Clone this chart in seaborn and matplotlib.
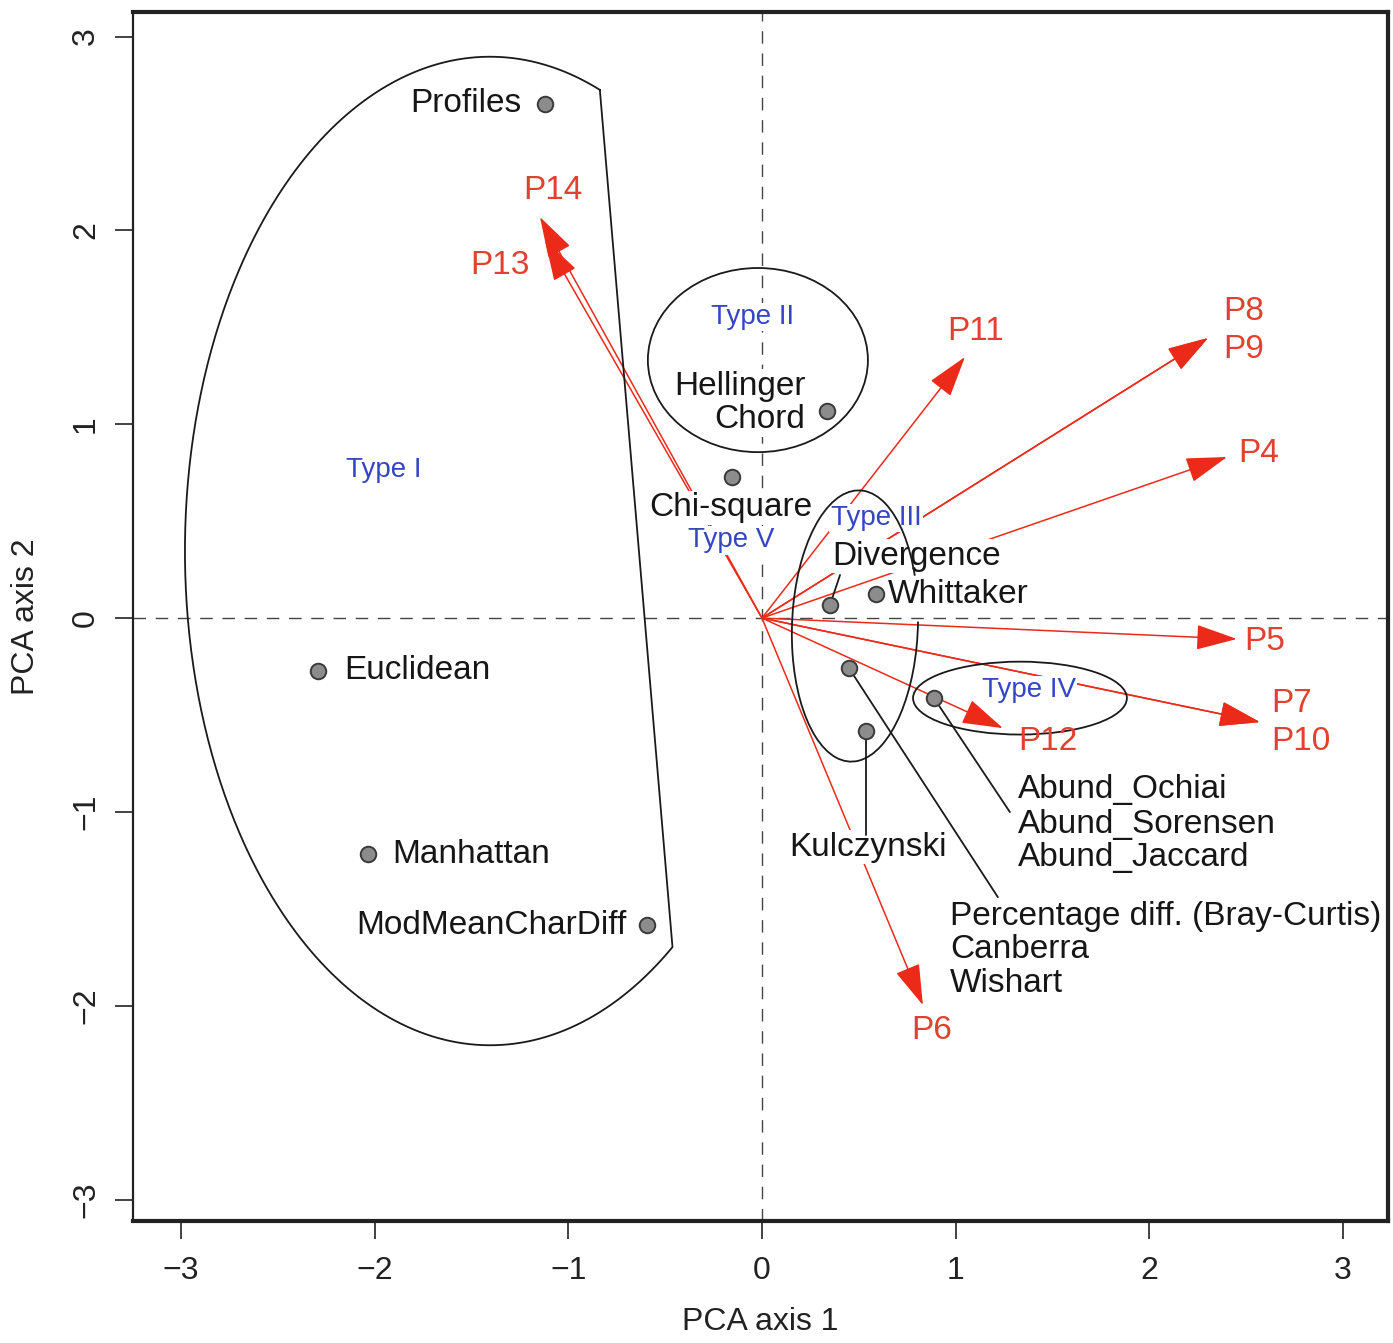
"""
PCA biplot of dissimilarity coefficients (points) and properties P4-P14 (arrows),
with the five coefficient types outlined.
"""

import numpy as np
import pandas as pd
import matplotlib
matplotlib.use("Agg")
import matplotlib.pyplot as plt
from matplotlib.patches import Ellipse, Arc
import seaborn as sns


# ── Data ──────────────────────────────────────────────────────────────────────

metric_names = ["Profiles", "Chi-square", "Hellinger", "Divergence", "Whittaker",
                "Percentage diff.", "Kulczynski", "Abund", "Euclidean",
                "Manhattan", "ModMeanCharDiff"]
metric_pc1 = [-1.12, -0.155, 0.336, 0.351, 0.589, 0.449, 0.537, 0.888, -2.292, -2.034, -0.594]
metric_pc2 = [2.65, 0.728, 1.068, 0.067, 0.124, -0.258, -0.583, -0.413, -0.273, -1.218, -1.584]

param_names = ["P4", "P5", "P6", "P7", "P8", "P9", "P10", "P11", "P12", "P13", "P14"]
param_pc1 = [2.401, 2.452, 0.831, 2.571, 2.303, 2.303, 2.571, 1.048, 1.244, -1.120, -1.146]
param_pc2 = [0.831, -0.108, -1.997, -0.537, 1.445, 1.445, -0.537, 1.347, -0.568, 1.950, 2.069]

xticks = [-3, -2, -1, 0, 1, 2, 3]
yticks = [-3, -2, -1, 0, 1, 2, 3]

# ── Layout / style ────────────────────────────────────────────────────────────

RED = "#ec2a1a"
RED_TXT = "#e3412f"
BLUE = "#3446c4"
GREY = "#8c8c8c"

# black labels: text, x, y, ha
black_labels = [
    ("Profiles", -1.239, 2.657, "right"),
    ("Hellinger", 0.227, 1.197, "right"),
    ("Chord", 0.222, 1.022, "right"),
    ("Chi-square", -0.160, 0.568, "center"),
    ("Divergence", 0.361, 0.320, "left"),
    ("Whittaker", 0.650, 0.119, "left"),
    ("Euclidean", -2.158, -0.273, "left"),
    ("Kulczynski", 0.547, -1.182, "center"),
    ("Manhattan", -1.910, -1.218, "left"),
    ("ModMeanCharDiff", -0.697, -1.584, "right"),
    ("Abund_Ochiai", 1.322, -0.887, "left"),
    ("Abund_Sorensen", 1.322, -1.063, "left"),
    ("Abund_Jaccard", 1.322, -1.233, "left"),
    ("Percentage diff. (Bray-Curtis)", 0.971, -1.538, "left"),
    ("Canberra", 0.971, -1.708, "left"),
    ("Wishart", 0.971, -1.883, "left"),
]

type_labels = [
    ("Type I", -1.951, 0.764),
    ("Type II", -0.046, 1.553),
    ("Type III", 0.589, 0.516),
    ("Type IV", 1.378, -0.372),
    ("Type V", -0.160, 0.402),
]

param_labels = [
    ("P14", -1.079, 2.208, "center"),
    ("P13", -1.353, 1.821, "center"),
    ("P11", 1.105, 1.476, "center"),
    ("P8", 2.380, 1.584, "left"),
    ("P9", 2.380, 1.383, "left"),
    ("P4", 2.457, 0.851, "left"),
    ("P5", 2.488, -0.119, "left"),
    ("P7", 2.628, -0.439, "left"),
    ("P10", 2.628, -0.635, "left"),
    ("P12", 1.322, -0.635, "left"),
    ("P6", 0.878, -2.126, "center"),
]

# leader lines: metric index -> label end
leaders = [(3, (0.403, 0.222)), (6, (0.537, -1.12)),
           (5, (1.218, -1.440)), (7, (1.280, -1.001))]


def clipped_ellipse(cx, cy, a, b, p0, p1, n=400):
    """Ellipse outline cut off by the straight line p0-p1 (keeps the left part)."""
    d = np.subtract(p1, p0)
    u0 = ((p0[0] - cx) / a, (p0[1] - cy) / b)
    du = (d[0] / a, d[1] / b)
    A = du[0] ** 2 + du[1] ** 2
    B = 2 * (u0[0] * du[0] + u0[1] * du[1])
    C = u0[0] ** 2 + u0[1] ** 2 - 1
    s = np.sort((-B + np.array([-1, 1]) * np.sqrt(B * B - 4 * A * C)) / (2 * A))
    q = [np.add(p0, si * d) for si in s]
    t0 = np.arctan2((q[0][1] - cy) / b, (q[0][0] - cx) / a)
    t1 = np.arctan2((q[1][1] - cy) / b, (q[1][0] - cx) / a)
    if t1 < t0:
        t1 += 2 * np.pi
    t = np.linspace(t0, t1, n)
    xs = np.append(cx + a * np.cos(t), q[0][0])
    ys = np.append(cy + b * np.sin(t), q[0][1])
    return xs, ys


# ── Plot ──────────────────────────────────────────────────────────────────────

sns.set_theme(style="white")
plt.rcParams["font.family"] = ["Liberation Sans", "DejaVu Sans"]

fig = plt.figure(figsize=(13.93, 13.43), dpi=100)
ax = fig.add_axes([0.0955, 0.0908, 0.9009, 0.9003])

ax.axhline(0, color="#444444", lw=1.0, ls=(0, (9, 7)), zorder=1)
ax.axvline(0, color="#444444", lw=1.0, ls=(0, (9, 7)), zorder=1)

# property arrows
for px, py in zip(param_pc1, param_pc2):
    ax.annotate("", xy=(px, py), xytext=(0, 0), zorder=2,
                arrowprops=dict(arrowstyle="-|>,head_length=1.3,head_width=0.4",
                                mutation_scale=20, color=RED, lw=1.1,
                                shrinkA=0, shrinkB=0))

# labels with white background
box = dict(boxstyle="square,pad=0.05", fc="white", ec="none")
for txt, x, y, ha in black_labels:
    ax.text(x, y, txt, ha=ha, va="center", fontsize=24, color="#161616",
            bbox=box, zorder=3)
for txt, x, y in type_labels:
    ax.text(x, y, txt, ha="center", va="center", fontsize=20, color=BLUE,
            bbox=box, zorder=3)
for txt, x, y, ha in param_labels:
    ax.text(x, y, txt, ha=ha, va="center", fontsize=24, color=RED_TXT, zorder=5)

# group outlines
xs, ys = clipped_ellipse(-1.404, 0.346, 1.575, 2.55, (-0.836, 2.714), (-0.465, -1.661))
ax.plot(xs, ys, color="#1a1a1a", lw=1.3, zorder=4)
ax.add_patch(Ellipse((-0.021, 1.331), 2 * 0.568, 2 * 0.475, fill=False,
                     ec="#1a1a1a", lw=1.3, zorder=4))
ax.add_patch(Arc((0.480, -0.041), 2 * 0.325, 2 * 0.70, angle=-2, theta1=42, theta2=366,
                 ec="#1a1a1a", lw=1.3, zorder=4))
ax.add_patch(Ellipse((1.332, -0.413), 2 * 0.552, 2 * 0.188, fill=False,
                     ec="#1a1a1a", lw=1.3, zorder=4))

# leader lines from points to labels
for i, (ex, ey) in leaders:
    ax.plot([metric_pc1[i], ex], [metric_pc2[i], ey], color="#1a1a1a", lw=1.3, zorder=4)

df = pd.DataFrame({"name": metric_names, "pc1": metric_pc1, "pc2": metric_pc2})
sns.scatterplot(data=df, x="pc1", y="pc2", color=GREY, edgecolor="#3a3a3a",
                linewidth=1.4, s=125, zorder=6, legend=False, ax=ax)

ax.set_xlim(-3.247, 3.232)
ax.set_ylim(-3.111, 3.127)
ax.set_xticks(xticks)
ax.set_yticks(yticks)
ax.set_xticklabels([str(t) if t >= 0 else "\u2212" + str(-t) for t in xticks])
ax.set_yticklabels([str(t) if t >= 0 else "\u2212" + str(-t) for t in yticks])
ax.tick_params(axis="both", direction="out", length=13, width=1.2, color="#222222",
               labelsize=23, labelcolor="#222222", bottom=True, left=True)
ax.tick_params(axis="x", pad=12)
ax.tick_params(axis="y", pad=10)
for lab in ax.get_yticklabels():
    lab.set_rotation(90)
    lab.set_va("center")

ax.set_xlabel("PCA axis 1", fontsize=23, color="#222222", labelpad=15)
ax.set_ylabel("PCA axis 2", fontsize=23, color="#222222", labelpad=22)

for side, lw in [("left", 1.6), ("top", 3.0), ("right", 3.0), ("bottom", 3.0)]:
    ax.spines[side].set_linewidth(lw)
    ax.spines[side].set_color("#222222")

fig.savefig("out.png", dpi=100)
plt.close(fig)
